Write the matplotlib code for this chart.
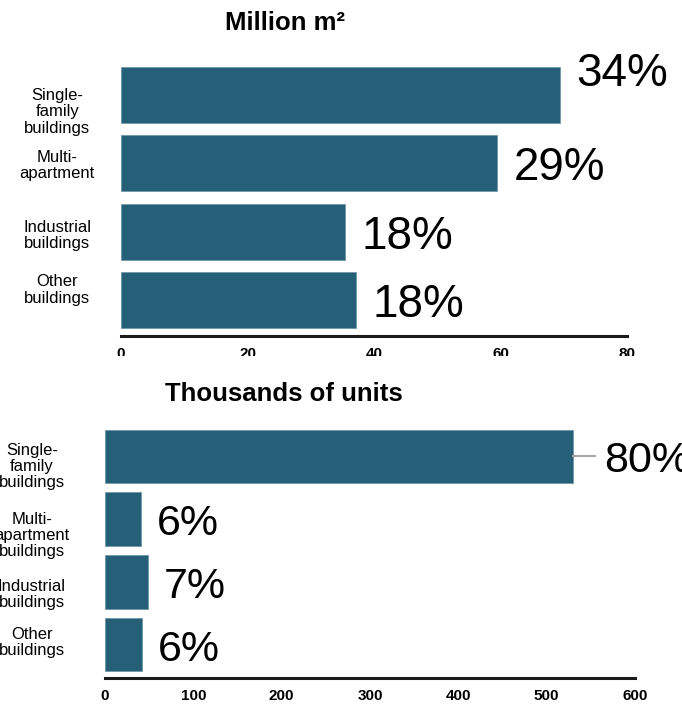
import matplotlib
matplotlib.use("Agg")
import matplotlib.pyplot as plt
from matplotlib.transforms import Bbox, TransformedBbox, blended_transform_factory

plt.rcParams['font.family'] = ['Liberation Sans', 'DejaVu Sans']

# data
area_cats = ['Single-\nfamily\nbuildings', 'Multi-\napartment', 'Industrial\nbuildings', 'Other\nbuildings']
area_vals = [69.4, 59.4, 35.4, 37.1]
area_pct = ['34%', '29%', '18%', '18%']

unit_cats = ['Single-\nfamily\nbuildings', 'Multi-\napartment\nbuildings', 'Industrial\nbuildings', 'Other\nbuildings']
unit_vals = [530, 41, 49, 42]
unit_pct = ['80%', '6%', '7%', '6%']

bar_col = '#265f78'
W, H = 682, 704
fig = plt.figure(figsize=(W / 100, H / 100), dpi=100)

ax1 = fig.add_axes([121 / W, (H - 336) / H, 506 / W, 272 / H])
ax2 = fig.add_axes([105 / W, (H - 678) / H, 530 / W, 250 / H])


def style(ax, xmax, step):
    for s in ['top', 'right', 'left']:
        ax.spines[s].set_visible(False)
    ax.spines['bottom'].set_linewidth(2.2)
    ax.spines['bottom'].set_color('#1a1a1a')
    ax.set_xlim(0, xmax)
    ax.set_xticks(range(0, xmax + 1, step))
    ax.tick_params(axis='x', length=0, pad=8, labelsize=11)
    for t in ax.get_xticklabels():
        t.set_fontweight('bold')
    ax.set_yticks([])


# top panel: floor area
y = range(len(area_vals))
ax1.barh(y, area_vals, height=0.82, color=bar_col, edgecolor='#6f97ab', linewidth=0.6)
ax1.set_ylim(3.52, -0.45)
style(ax1, 80, 20)
ax1.text(0.324, 1.15, 'Million m²', transform=ax1.transAxes, ha='center', va='center',
         fontsize=18.5, fontweight='bold')
lab_x1 = blended_transform_factory(ax1.transAxes, ax1.transData)
lab_dy1 = [0.25, 0.03, 0.05, -0.15]
for i, (c, v, p) in enumerate(zip(area_cats, area_vals, area_pct)):
    ax1.text(-0.126, i + lab_dy1[i], c, transform=lab_x1, ha='center', va='center',
             fontsize=12, linespacing=1.1)
    dy = 15 if i == 0 else -3.5
    ax1.annotate(p, (v, i), xytext=(12, dy), textcoords='offset points', ha='left',
                 va='center', fontsize=33)

# clip the top tick labels like in the original
clip = TransformedBbox(Bbox([[0, (H - 356) / H], [1, 1]]), fig.transFigure)
for t in ax1.get_xticklabels():
    t.set_clip_box(clip)
    t.set_clip_on(True)

# bottom panel: units
ax2.barh(y, unit_vals, height=0.85, color=bar_col, edgecolor='#6f97ab', linewidth=0.6)
ax2.set_ylim(3.53, -0.45)
style(ax2, 600, 100)
ax2.text(0.338, 1.135, 'Thousands of units', transform=ax2.transAxes, ha='center',
         va='center', fontsize=18.5, fontweight='bold')
lab_x2 = blended_transform_factory(ax2.transAxes, ax2.transData)
lab_dy2 = [0.16, 0.26, 0.2, -0.03]
for i, (c, v, p) in enumerate(zip(unit_cats, unit_vals, unit_pct)):
    ax2.text(-0.138, i + lab_dy2[i], c, transform=lab_x2, ha='center', va='center',
             fontsize=12, linespacing=1.1)
    if i == 0:
        ax2.plot([v, v + 25], [i, i], color='#a6a6a6', lw=1.5, clip_on=False)
        off = 22
    else:
        off = 11
    ax2.annotate(p, (v, i), xytext=(off, -3.5), textcoords='offset points', ha='left',
                 va='center', fontsize=31, annotation_clip=False)

fig.savefig('out.png', dpi=100)
